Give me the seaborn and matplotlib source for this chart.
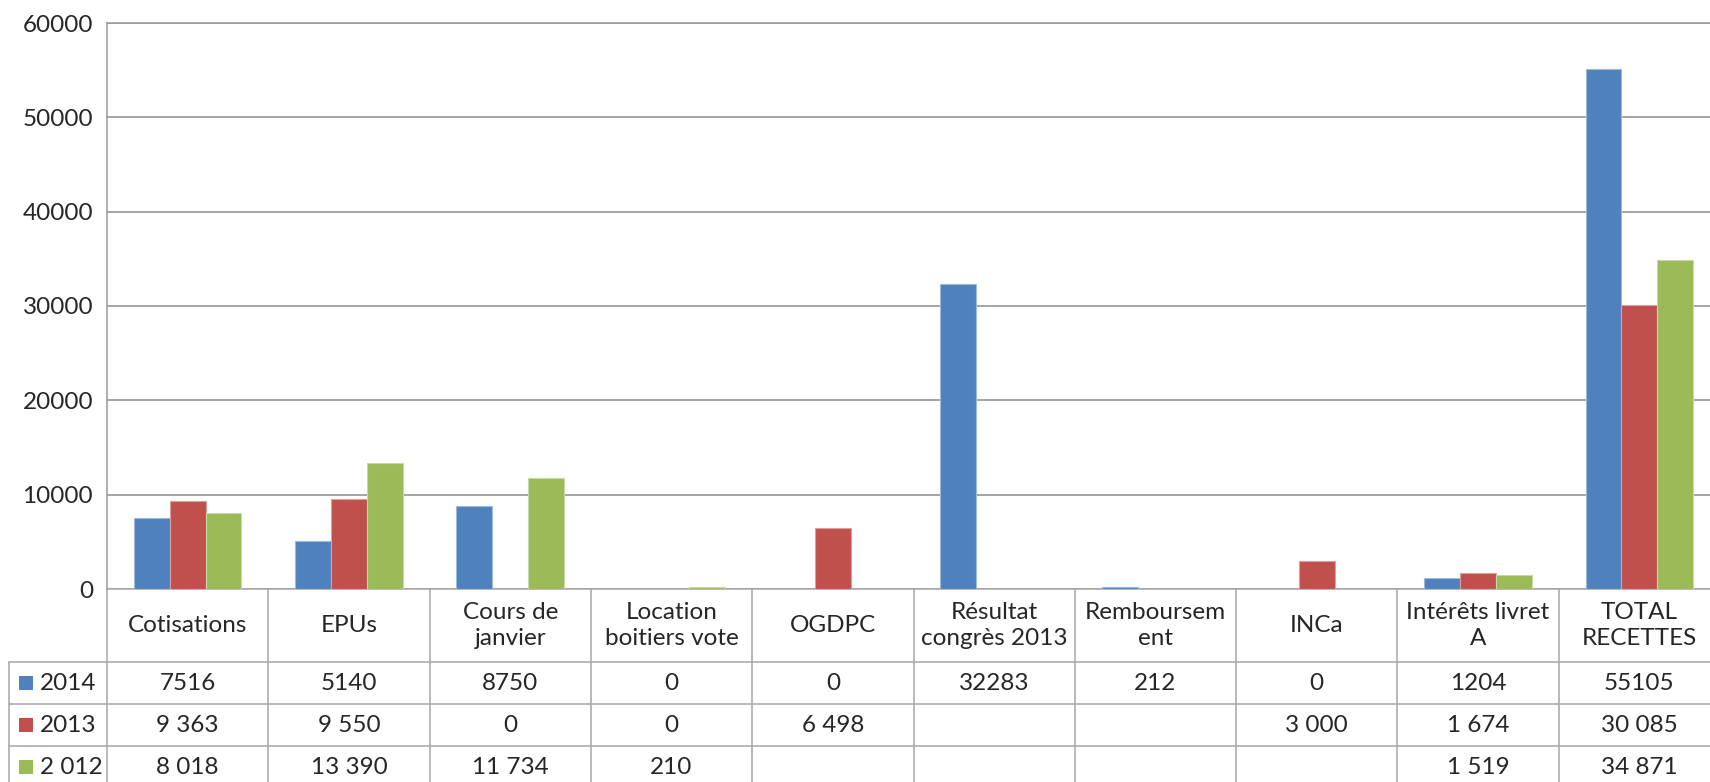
import numpy as np
import pandas as pd
import matplotlib
matplotlib.use("Agg")
import matplotlib.pyplot as plt
import matplotlib.colors as mcolors
import matplotlib.transforms as mtransforms
from matplotlib.lines import Line2D
import seaborn as sns

categories = ["Cotisations", "EPUs", "Cours de\njanvier", "Location\nboitiers vote",
              "OGDPC", "Résultat\ncongrès 2013", "Remboursem\nent", "INCa",
              "Intérêts livret\nA", "TOTAL\nRECETTES"]
series = ["2014", "2013", "2 012"]
v2014 = [7516, 5140, 8750, 0, 0, 32283, 212, 0, 1204, 55105]
v2013 = [9363, 9550, 0, 0, 6498, np.nan, np.nan, 3000, 1674, 30085]
v2012 = [8018, 13390, 11734, 210, np.nan, np.nan, np.nan, np.nan, 1519, 34871]
colors = ["#4F81BD", "#C0504D", "#9BBB59"]
yticks = [0, 10000, 20000, 30000, 40000, 50000, 60000]

rows = []
for s, vals in zip(series, [v2014, v2013, v2012]):
    for c, v in zip(categories, vals):
        rows.append({"cat": c, "year": s, "value": v})
df = pd.DataFrame(rows)

sns.set_style("white")
plt.rcParams["font.family"] = ["Lato", "DejaVu Sans"]
TXT = "#262626"
GRID = "#8C8C8C"
TBL = "#A6A6A6"
FS = 17.5

W, H = 1710, 782
fig = plt.figure(figsize=(W / 100, H / 100), dpi=100)
left, right, top, zero = 107, 1720, 23, 589
ax = fig.add_axes([left / W, 1 - zero / H, (right - left) / W, (zero - top) / H])

sns.barplot(data=df, x="cat", y="value", hue="year", order=categories,
            hue_order=series, palette=dict(zip(series, colors)),
            width=0.667, saturation=1, legend=False, ax=ax, zorder=3)
for p in ax.patches:
    fc = np.array(mcolors.to_rgb(p.get_facecolor()))
    p.set_edgecolor(tuple(fc + (1 - fc) * 0.45))
    p.set_linewidth(0.8)

ax.set_xlim(-0.5, len(categories) - 0.5)
ax.set_ylim(0, 60000)
ax.set_yticks(yticks)
ax.set_yticklabels([str(t) for t in yticks], fontsize=FS, color=TXT)
ax.set_xticks([])
ax.set_xlabel("")
ax.set_ylabel("")
ax.tick_params(axis="y", length=0, pad=10)
ax.yaxis.grid(True, color=GRID, linewidth=1.1, zorder=0)
ax.set_axisbelow(True)
for side in ["left", "top", "right"]:
    ax.spines[side].set_color("#9A9A9A")
    ax.spines[side].set_linewidth(1.1)
ax.spines["bottom"].set_color(TBL)
ax.spines["bottom"].set_linewidth(1.1)

# data table below the chart
def fy(y):
    return 1 - y / H

def fx(x):
    return x / W

trans = mtransforms.blended_transform_factory(ax.transData, fig.transFigure)
row_lines = [662, 704, 746]
bottom = H + 10
n = len(categories)

for k in range(n + 1):
    fig.add_artist(Line2D([k - 0.5, k - 0.5], [fy(zero), fy(bottom)], transform=trans,
                          color=TBL, linewidth=1.1, clip_on=False))
for y in row_lines:
    fig.add_artist(Line2D([fx(9), fx(W + 20)], [fy(y), fy(y)], transform=fig.transFigure,
                          color=TBL, linewidth=1.1))
fig.add_artist(Line2D([fx(9), fx(9)], [fy(row_lines[0]), fy(bottom)],
                      transform=fig.transFigure, color=TBL, linewidth=1.1))

head_y = (zero + row_lines[0]) / 2
for i, c in enumerate(categories):
    fig.text(i, fy(head_y), c, transform=trans, ha="center", va="center",
             fontsize=FS, color=TXT, linespacing=1.35)

def fmt(v, plain):
    if np.isnan(v):
        return ""
    if plain:
        return str(int(v))
    return f"{int(v):,}".replace(",", " ")

row_centers = [683, 725, 767]
for r, (s, vals, col) in enumerate(zip(series, [v2014, v2013, v2012], colors)):
    yc = row_centers[r]
    fig.patches.append(plt.Rectangle((fx(19), fy(yc + 7)), 14 / W, 14 / H,
                                     transform=fig.transFigure, facecolor=col,
                                     edgecolor="none"))
    fig.text(fx(40), fy(yc), s, ha="left", va="center", fontsize=FS, color=TXT)
    for i, v in enumerate(vals):
        fig.text(i, fy(yc), fmt(v, r == 0), transform=trans, ha="center",
                 va="center", fontsize=FS, color=TXT)

fig.savefig("out.png", dpi=100)
